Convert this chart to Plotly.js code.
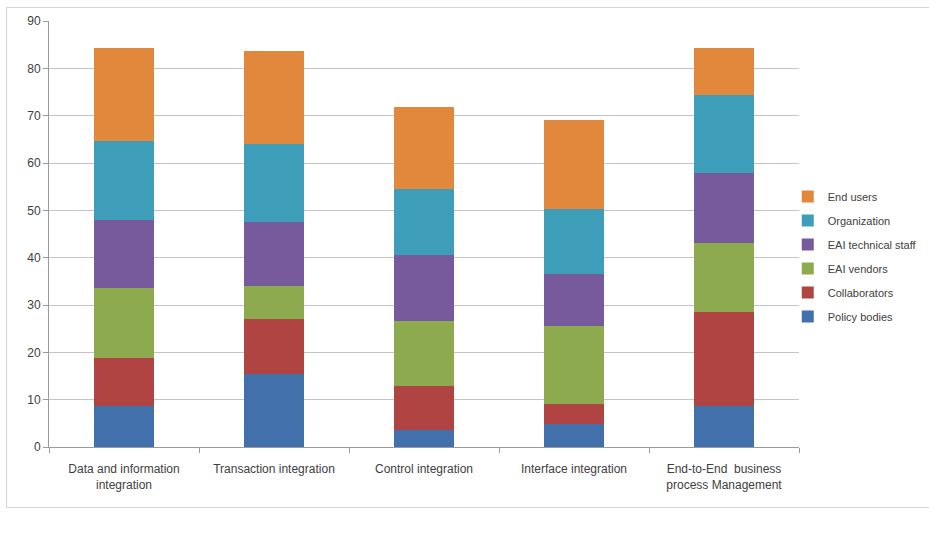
<!DOCTYPE html>
<html>
<head>
<meta charset="utf-8">
<script src="https://cdn.plot.ly/plotly-3.0.1.min.js"></script>
<style>
  html, body { margin: 0; padding: 0; background: #ffffff; }
  #frame { position: absolute; left: 6px; top: 7px; width: 940px; height: 501px; border: 1.5px solid #d6d6d6; box-sizing: border-box; }
  #chart { position: absolute; left: 0; top: 0; width: 929px; height: 538px; }
</style>
</head>
<body>
<div id="frame"></div>
<div id="chart"></div>
<script>
const categories = [
  "Data and information<br>integration",
  "Transaction integration",
  "Control integration",
  "Interface integration",
  "End-to-End  business<br>process Management"
];
const policyBodies   = [8.7, 15.4, 3.5, 4.9, 8.7];
const collaborators  = [10.0, 11.6, 9.3, 4.2, 19.8];
const eaiVendors     = [14.8, 7.1, 13.9, 16.4, 14.6];
const eaiTechStaff   = [14.5, 13.4, 13.9, 11.1, 14.8];
const organization   = [16.6, 16.5, 14.0, 13.7, 16.5];
const endUsers       = [19.7, 19.7, 17.2, 18.7, 9.9];

const seriesNames  = ["Policy bodies", "Collaborators", "EAI vendors", "EAI technical staff", "Organization", "End users"];
const seriesValues = [policyBodies, collaborators, eaiVendors, eaiTechStaff, organization, endUsers];
const seriesColors = ["#4170ab", "#b04442", "#8eaa4f", "#775a9b", "#3e9eba", "#e2883c"];

const traces = seriesNames.map((name, i) => ({
  type: "bar",
  name: name,
  x: categories,
  y: seriesValues[i],
  marker: { color: seriesColors[i], line: { width: 0 } },
  legendgroup: "g" + i,
  legendrank: 1000 - i,
  hoverinfo: "name+y"
}));

const layout = {
  width: 929,
  height: 538,
  barmode: "stack",
  bargap: 0.6,
  paper_bgcolor: "rgba(0,0,0,0)",
  plot_bgcolor: "rgba(0,0,0,0)",
  margin: { l: 49, r: 130, t: 21, b: 91, autoexpand: false },
  font: { family: "Liberation Sans, Arial, sans-serif", size: 12, color: "#404040" },
  xaxis: {
    type: "category",
    showline: true,
    linecolor: "#9a9a9a",
    linewidth: 1,
    ticks: "outside",
    tickson: "boundaries",
    ticklen: 5,
    tickcolor: "#9a9a9a",
    showgrid: false,
    zeroline: false,
    ticklabelstandoff: 11,
    tickfont: { size: 12, color: "#404040" }
  },
  yaxis: {
    range: [0, 90],
    dtick: 10,
    showline: true,
    linecolor: "#9a9a9a",
    linewidth: 1,
    ticks: "outside",
    ticklen: 5,
    tickcolor: "#9a9a9a",
    showgrid: true,
    gridcolor: "#c4c4c4",
    gridwidth: 1,
    zeroline: false,
    tickfont: { size: 12, color: "#404040" }
  },
  legend: {
    x: 0.985,
    xanchor: "left",
    y: 0.447,
    yanchor: "middle",
    traceorder: "grouped",
    tracegroupgap: 5,
    font: { size: 11, color: "#404040" },
    bgcolor: "rgba(0,0,0,0)"
  },
  showlegend: true
};

Plotly.newPlot("chart", traces, layout, { displayModeBar: false, staticPlot: true });
</script>
</body>
</html>
